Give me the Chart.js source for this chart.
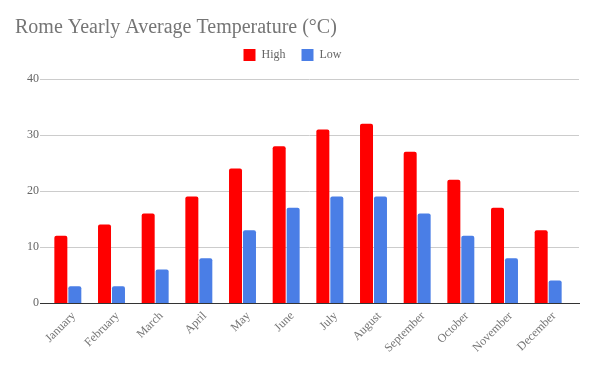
<!DOCTYPE html>
<html>
<head>
<meta charset="utf-8">
<script src="https://cdn.jsdelivr.net/npm/chart.js@4"></script>
<style>
html,body{margin:0;padding:0;background:#fff;}
#wrap{width:594px;height:367px;position:relative;}
</style>
</head>
<body>
<div id="wrap"><canvas id="c" width="594" height="367"></canvas></div>
<script>
const months = ["January","February","March","April","May","June","July","August","September","October","November","December"];
const highTemps = [12,14,16,19,24,28,31,32,27,22,17,13];
const lowTemps = [3,3,6,8,13,17,19,19,16,12,8,4];
const yTicks = [0,10,20,30,40];

const FONT = "'Liberation Serif', 'Times New Roman', serif";

const gridPlugin = {
  id: 'extGrid',
  beforeDatasetsDraw(chart) {
    const y = chart.scales.y;
    const ctx = chart.ctx;
    ctx.save();
    yTicks.forEach(v => {
      const py = Math.round(y.getPixelForValue(v)) + 0.5;
      ctx.beginPath();
      ctx.strokeStyle = v === 0 ? '#333333' : '#cccccc';
      ctx.lineWidth = 1;
      ctx.moveTo(40, py);
      ctx.lineTo(v === 0 ? 580 : 579, py);
      ctx.stroke();
    });
    ctx.restore();
  }
};

const spacerPlugin = {
  id: 'spacer',
  beforeInit(chart) {
    const box = {
      position: 'top', weight: 0, fullSize: true, options: {},
      left: 0, top: 0, right: 0, bottom: 0, width: 0, height: 0,
      isHorizontal() { return true; },
      update(maxWidth) { this.width = maxWidth; this.height = 8; },
      draw() {}
    };
    Chart.layouts.addBox(chart, box);
  }
};

new Chart(document.getElementById('c'), {
  type: 'bar',
  data: {
    labels: months,
    datasets: [
      {label: 'High', data: highTemps, backgroundColor: '#ff0000', borderRadius: {topLeft: 2, topRight: 2}, borderSkipped: 'bottom'},
      {label: 'Low', data: lowTemps, backgroundColor: '#4a7ee6', borderRadius: {topLeft: 2, topRight: 2}, borderSkipped: 'bottom'}
    ]
  },
  options: {
    responsive: false,
    animation: false,
    devicePixelRatio: 1,
    categoryPercentage: 0.64,
    barPercentage: 0.93,
    layout: {padding: {left: 15, right: 24, top: 16, bottom: 0}},
    plugins: {
      title: {
        display: true,
        text: 'Rome Yearly Average Temperature (°C)',
        align: 'start',
        color: '#757575',
        font: {family: FONT, size: 20, weight: 'normal'},
        padding: {top: 0, bottom: -7}
      },
      legend: {
        display: true,
        position: 'top',
        labels: {
          boxWidth: 12, boxHeight: 12,
          color: '#666666',
          font: {family: FONT, size: 12},
          padding: 16
        }
      },
      tooltip: {enabled: false}
    },
    scales: {
      x: {
        grid: {display: false, drawTicks: false},
        border: {display: false},
        ticks: {
          autoSkip: false, maxRotation: 45, minRotation: 45,
          color: '#757575',
          font: {family: FONT, size: 12},
          padding: 6,
          labelOffset: 6
        },
        afterFit(scale) { scale.height = 64; }
      },
      y: {
        min: 0, max: 40,
        grid: {display: false, drawTicks: false},
        border: {display: false},
        ticks: {
          stepSize: 10,
          color: '#666666',
          font: {family: FONT, size: 12},
          padding: 7
        },
        afterFit(scale) { scale.width = 31; }
      }
    }
  },
  plugins: [gridPlugin, spacerPlugin]
});
</script>
</body>
</html>
